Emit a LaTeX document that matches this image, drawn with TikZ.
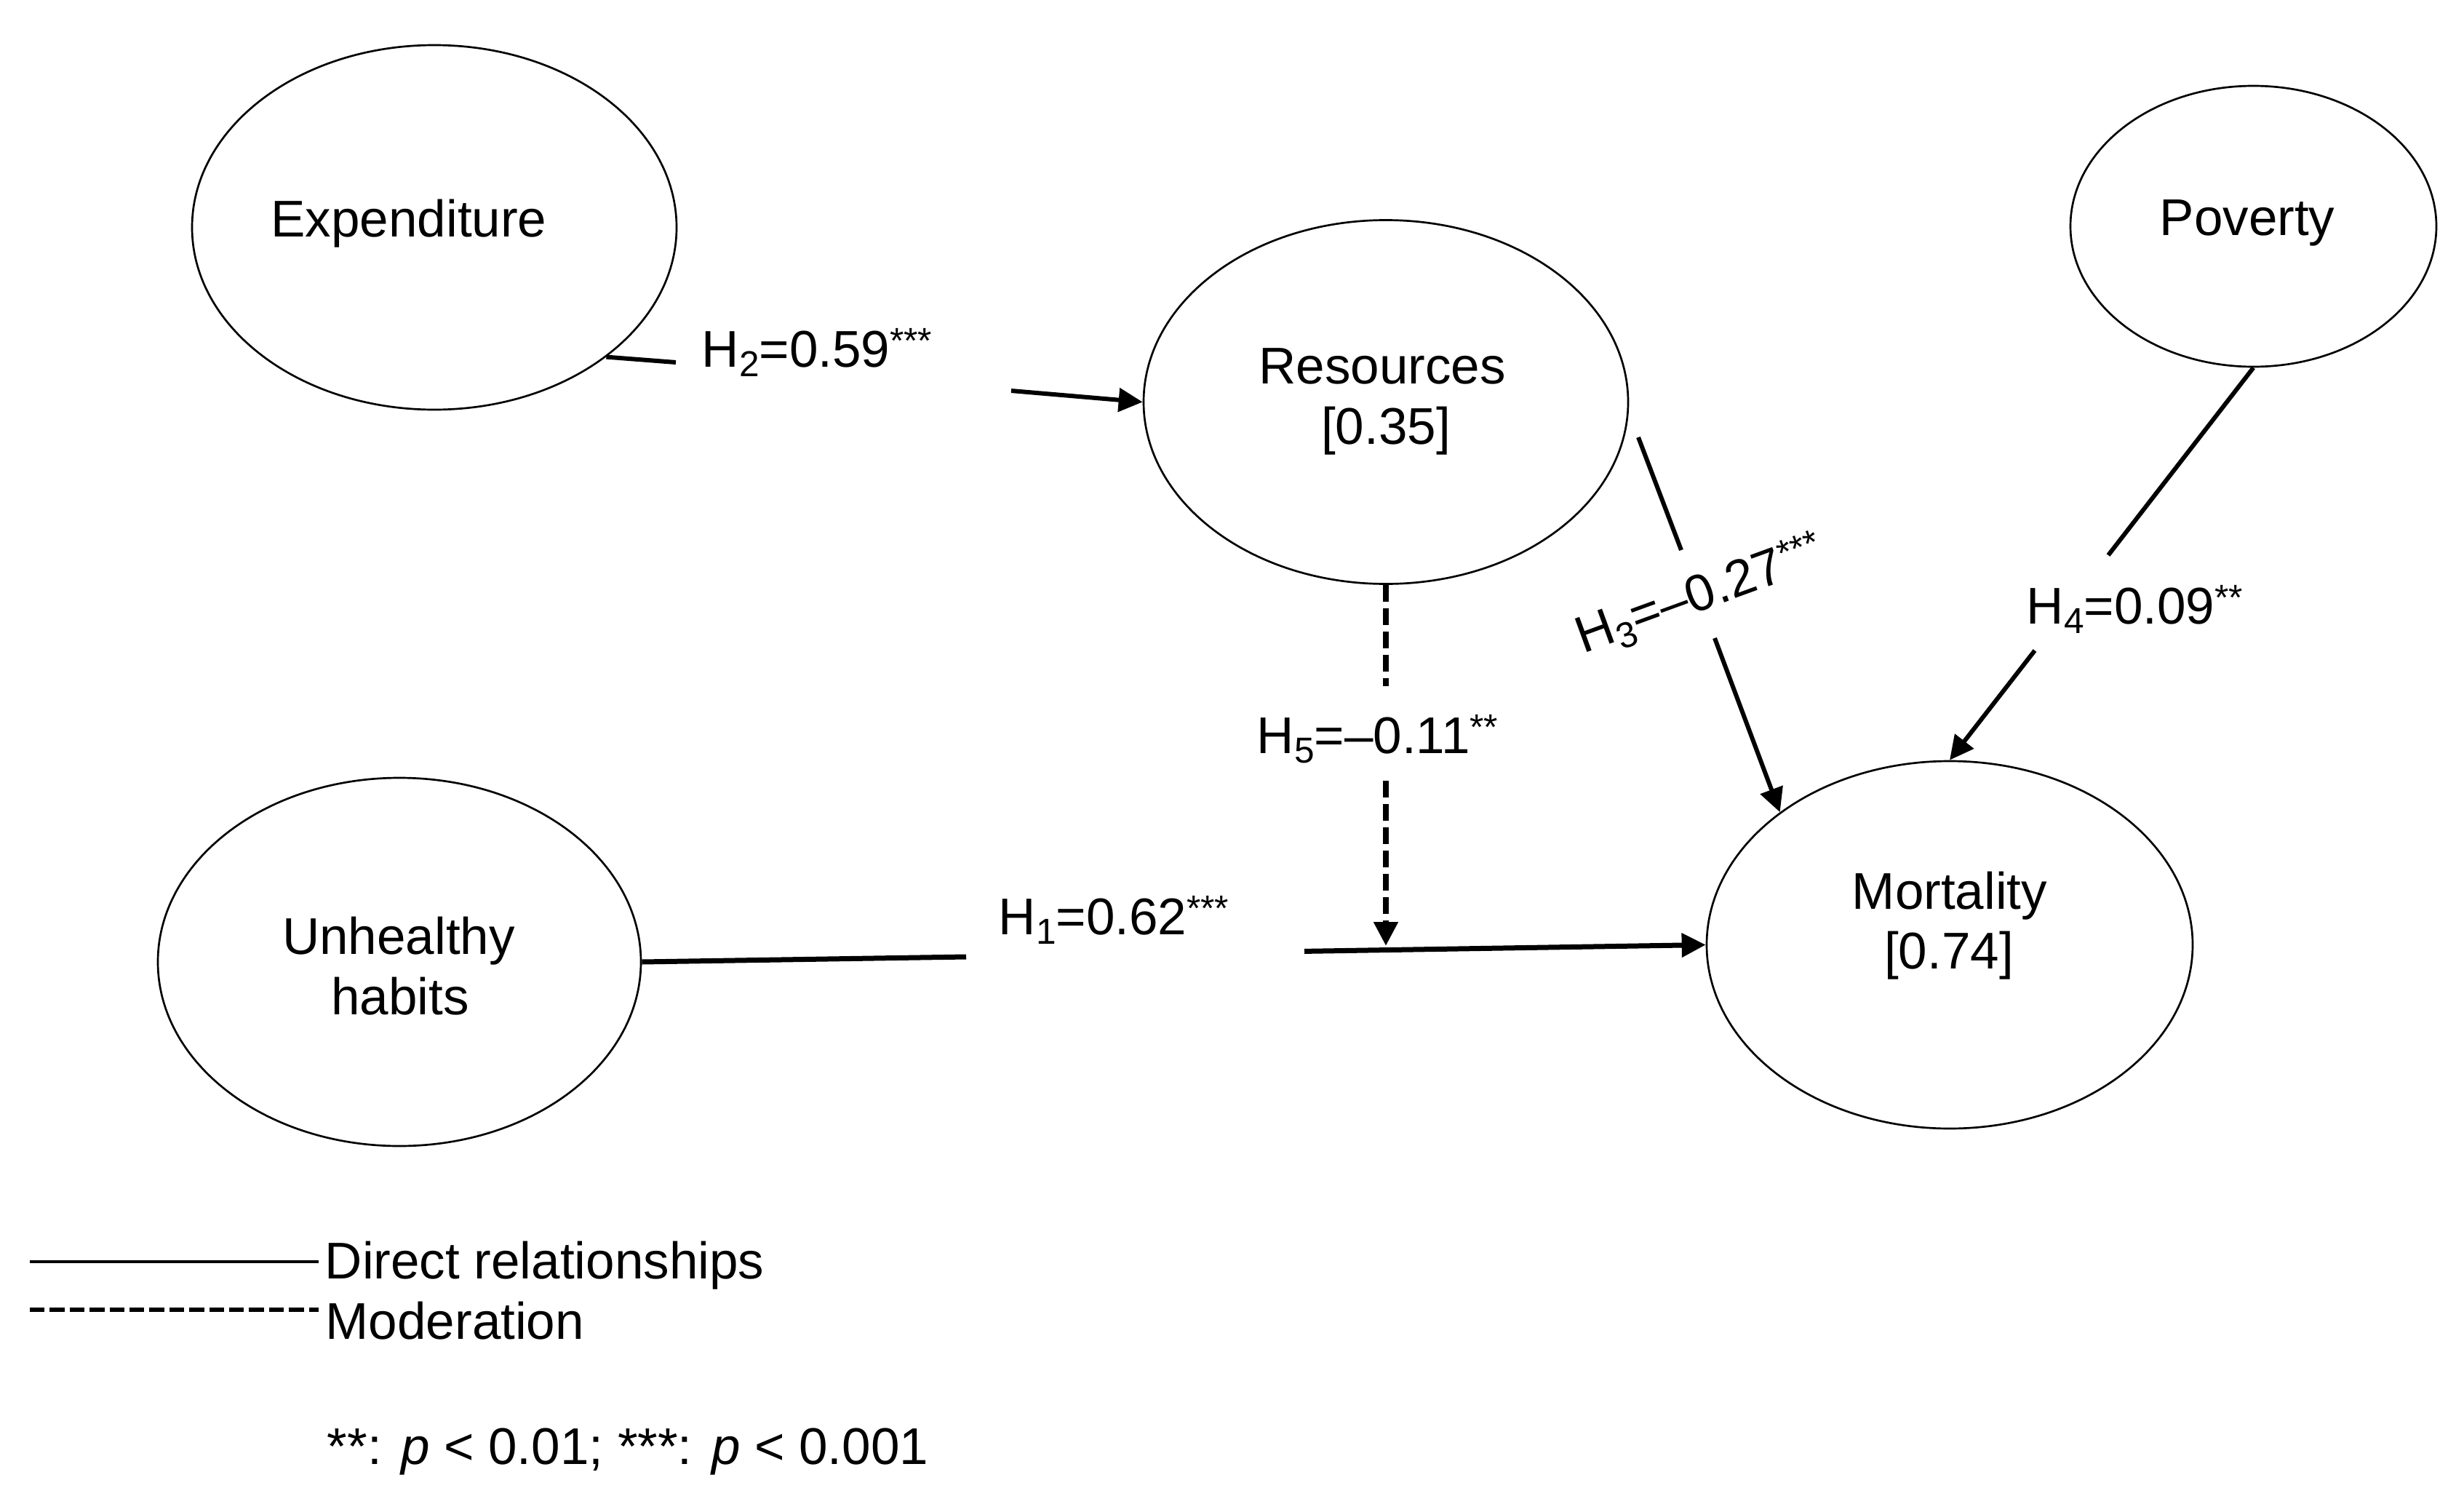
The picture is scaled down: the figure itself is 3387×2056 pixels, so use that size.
\documentclass[tikz,border=0pt]{standalone}
\usepackage{fontspec}
\setmainfont{Liberation Sans}
\usetikzlibrary{shapes.geometric,arrows.meta}
\newcommand\dfont{\fontsize{17.75pt}{21pt}\selectfont}
\newcommand\mysup[1]{\raisebox{4.75pt}{\fontsize{12.4pt}{14pt}\selectfont #1}}
\newcommand\mysub[1]{\raisebox{-3.25pt}{\fontsize{12.4pt}{14pt}\selectfont #1}}
\begin{document}
\begin{tikzpicture}[x=0.25pt,y=-0.25pt,
  latent/.style={draw, line width=0.67pt, ellipse, inner sep=0pt},
  txt/.style={inner sep=0pt, anchor=base, font=\dfont},
  lbl/.style={inner sep=0pt, anchor=base west, font=\dfont},
  conn/.style={line width=1.5pt},
  tip/.style={-{Triangle[length=8.25pt,width=8pt]}},
  arr/.style={conn, tip},
  modl/.style={line width=2pt, dash pattern=on 5.75pt off 2.25pt},
]
\useasboundingbox (0,0) rectangle (3387,2056);
% latent variables
\node[latent, minimum width=166.5pt, minimum height=125.25pt] (exp) at (597,312.5) {};
\node[latent, minimum width=166.5pt, minimum height=125pt] (res) at (1905,552.5) {};
\node[latent, minimum width=125.75pt, minimum height=96.5pt] (pov) at (3097.5,311) {};
\node[latent, minimum width=166pt, minimum height=126.5pt] (uh) at (549,1322) {};
\node[latent, minimum width=167pt, minimum height=126.25pt] (mort) at (2680,1298.5) {};
% texts
\node[txt] (expt) at (562,325) {Expenditure};
\node[txt] (rest1) at (1900,527) {Resources};
\node[txt] (rest2) at (1905,610) {[0.35]};
\node[txt] (povt) at (3089,323) {Poverty};
\node[txt] (uht1) at (548,1311) {Unhealthy};
\node[txt] (uht2) at (550,1394) {habits};
\node[txt] (mortt1) at (2680,1249) {Mortality};
\node[txt] (mortt2) at (2679,1331) {[0.74]};
% gap coordinates
\coordinate (h2a) at (929,498);
\coordinate (h2b) at (1390,537);
\coordinate (h1a) at (1328,1315);
\coordinate (h1b) at (1793,1307.4);
\coordinate (h5a) at (1905,943);
\coordinate (h5b) at (1905,1073);
\coordinate (h5c) at (1905,1300);
\coordinate (h3s) at (2252,601);
\coordinate (h3a) at (2311,756);
\coordinate (h3b) at (2357,877);
\coordinate (h4a) at (2898,763);
\coordinate (h4b) at (2797,894);
% connectors
\draw[conn] (exp.-37) -- (h2a);
\draw[arr] (h2b) -- (res.west);
\draw[line width=1.75pt] (uh.east) -- (h1a);
\draw[arr, line width=1.75pt] (h1b) -- (mort.west);
\draw[modl] (res.south) -- (h5a);
\draw[modl, tip] (h5b) -- (h5c);
\draw[conn] (h3s) -- (h3a);
\draw[arr] (h3b) -- (mort.142);
\draw[conn] (pov.south) -- (h4a);
\draw[arr] (h4b) -- (mort.north);
% path labels
\node[lbl] (h2l) at (964,504) {H\mysub{2}=0.59\mysup{***}};
\node[lbl] (h1l) at (1372,1284) {H\mysub{1}=0.62\mysup{***}};
\node[lbl] (h5l) at (1727,1035) {H\mysub{5}=–0.11\mysup{**}};
\node[lbl] (h4l) at (2785,857) {H\mysub{4}=0.09\mysup{**}};
\node[lbl, rotate=20] (h3l) at (2176,899) {H\mysub{3}=–0.27\mysup{***}};
% legend
\coordinate (l1a) at (41,1734);
\coordinate (l1b) at (438,1734);
\coordinate (l2a) at (41,1800);
\coordinate (l2b) at (438,1800);
\draw[line width=0.85pt] (l1a) -- (l1b);
\draw[line width=1.6pt, dash pattern=on 5.1pt off 1.75pt] (l2a) -- (l2b);
\node[lbl] (lg1) at (446,1757) {Direct relationships};
\node[lbl] (lg2) at (447,1840) {Moderation};
\node[lbl] (note) at (449,2012) {**: \textit{p} < 0.01; ***: \textit{p} < 0.001};
\end{tikzpicture}
\end{document}
